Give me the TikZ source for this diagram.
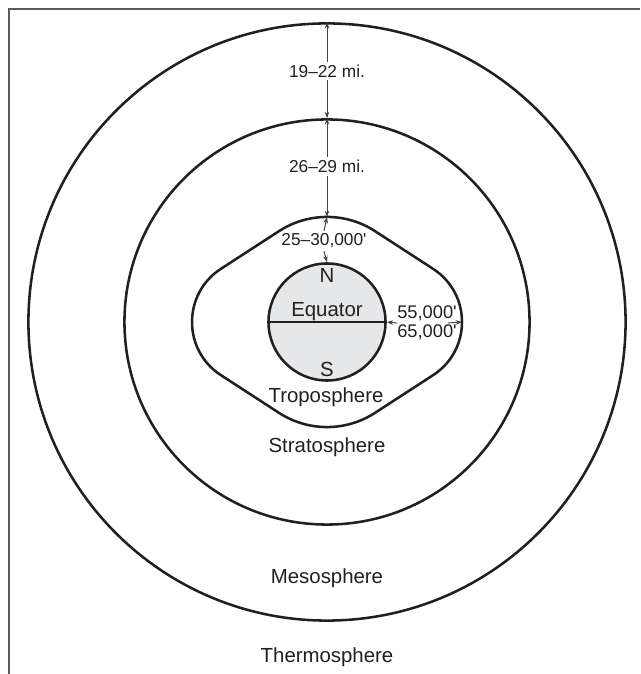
\documentclass[tikz,border=0pt]{standalone}
\usepackage{fontspec}
\setmainfont{Liberation Sans}
\usetikzlibrary{arrows.meta, calc}

\definecolor{ink}{HTML}{231F20}
\definecolor{earthgray}{HTML}{E6E7E8}
\definecolor{framegray}{HTML}{5A5A5A}

\begin{document}
\begin{tikzpicture}[
    x=0.025cm, y=0.025cm,
    shell/.style={draw=ink, line width=1.8pt, line join=round},
    sphere/.style={shell, circle, inner sep=0pt},
    layer/.style={font=\fontsize{14.5}{16}\selectfont, text=ink, anchor=base},
    dimtext/.style={font=\fontsize{12.3}{12.8}\selectfont, text=ink, inner sep=2pt},
    dim/.style={draw=ink!85, line width=0.7pt, -{Stealth[length=4.5pt, width=3.2pt]}}
]
\useasboundingbox (-327,-352) rectangle (313,322);

% ====================
% Cornice
% ====================
\draw[framegray, line width=1.1pt] (-318,-352) -- (-318,313) -- (313,313);

% ====================
% Sfere
% ====================
\node[sphere, minimum size=14.925cm] (outer) at (0,0) {};
\node[sphere, minimum size=10.125cm] (middle) at (0,0) {};

% Troposfera (rombo arrotondato)
\coordinate (dN) at (0,122);
\coordinate (dE) at (188,0);
\coordinate (dS) at (0,-122);
\coordinate (dW) at (-188,0);
\coordinate (ne1) at ($(dN)!0.255!(dE)$);
\coordinate (ne2) at ($(dE)!0.4355!(dN)$);
\coordinate (se2) at ($(dE)!0.4355!(dS)$);
\coordinate (se1) at ($(dS)!0.255!(dE)$);
\coordinate (sw1) at ($(dS)!0.255!(dW)$);
\coordinate (sw2) at ($(dW)!0.4355!(dS)$);
\coordinate (nw2) at ($(dW)!0.4355!(dN)$);
\coordinate (nw1) at ($(dN)!0.255!(dW)$);
\draw[shell] (nw1) .. controls ($(nw1)!0.6075!(dN)$) and ($(ne1)!0.6075!(dN)$) .. (ne1)
    -- (ne2) .. controls ($(ne2)!0.47!(dE)$) and ($(se2)!0.47!(dE)$) .. (se2)
    -- (se1) .. controls ($(se1)!0.6075!(dS)$) and ($(sw1)!0.6075!(dS)$) .. (sw1)
    -- (sw2) .. controls ($(sw2)!0.47!(dW)$) and ($(nw2)!0.47!(dW)$) .. (nw2)
    -- cycle;
\coordinate (tropoN) at (0,105);
\coordinate (tropoE) at (135,0);

% Terra
\node[sphere, fill=earthgray, minimum size=2.925cm] (earth) at (0,0) {};
\draw[shell] (earth.west) -- (earth.east);

% ====================
% Etichette
% ====================
\node[layer] (N) at (0,39) {N};
\node[layer] (equator) at (0,5) {Equator};
\node[layer] (S) at (0,-55) {S};
\node[layer] (tropo) at (-1,-81) {Troposphere};
\node[layer] (strato) at (0,-131) {Stratosphere};
\node[layer] (meso) at (0,-261) {Mesosphere};
\node[layer] (thermo) at (0,-340) {Thermosphere};

% ====================
% Quote
% ====================
\node[dimtext] (d19) at (0,251) {19--22 mi.};
\draw[dim] (d19.north) -- (outer.north);
\draw[dim] (d19.south) -- (middle.north);

\node[dimtext] (d26) at (0,155.5) {26--29 mi.};
\draw[dim] (d26.north) -- (middle.north);
\draw[dim] (d26.south) -- (tropoN);

\node[dimtext] (d25) at (-3,81) {25--30,000\textquotesingle};
\draw[dim] (d25.north) -- (tropoN);
\draw[dim] (d25.south) -- (earth.north);

\node[dimtext, font=\fontsize{13}{13.6}\selectfont, align=center, inner sep=0pt]
    (d55) at (100,-1) {55,000\textquotesingle\\65,000\textquotesingle};
\draw[dim] (d55.west) -- (earth.east);
\draw[dim] ($(d55.east)+(-9,0)$) -- (tropoE);

\end{tikzpicture}
\end{document}
